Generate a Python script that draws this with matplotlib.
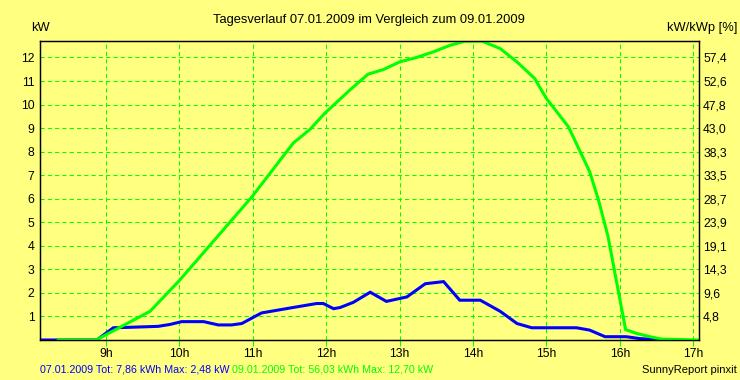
import matplotlib
matplotlib.use("Agg")
import matplotlib.pyplot as plt

# ---- data ----
hours_blue = [8.10, 8.873, 9.10, 9.33, 9.71, 9.87, 10.03, 10.33, 10.53, 10.71, 10.85,
              11.01, 11.12, 11.51, 11.87, 11.96, 12.10, 12.19, 12.37, 12.60, 12.82,
              13.10, 13.35, 13.60, 13.82, 14.10, 14.37, 14.60, 14.80, 15.41, 15.59,
              15.80, 16.09, 16.27, 16.59]
kw_blue = [0, 0, 0.52, 0.54, 0.58, 0.66, 0.78, 0.78, 0.64, 0.64, 0.70,
           0.97, 1.15, 1.36, 1.55, 1.55, 1.33, 1.38, 1.60, 2.03, 1.64,
           1.83, 2.39, 2.48, 1.69, 1.69, 1.22, 0.70, 0.52, 0.52, 0.42,
           0.14, 0.14, 0.06, 0]

hours_green = [8.35, 8.864, 9.60, 10.00, 10.99, 11.55, 11.78, 11.98, 12.32, 12.57,
               12.78, 13.00, 13.23, 13.46, 13.69, 13.89, 14.12, 14.37, 14.60, 14.84,
               15.00, 15.30, 15.59, 15.71, 15.84, 15.96, 16.08, 16.23, 16.41, 16.57,
               17.08]
kw_green = [0, 0, 1.22, 2.53, 6.09, 8.36, 8.95, 9.63, 10.61, 11.29,
            11.49, 11.81, 12.00, 12.24, 12.52, 12.69, 12.70, 12.38, 11.81, 11.11,
            10.26, 9.06, 7.15, 5.95, 4.40, 2.42, 0.44, 0.28, 0.14, 0.04,
            0]

x_ticks = [9, 10, 11, 12, 13, 14, 15, 16, 17]
x_labels = ["9h", "10h", "11h", "12h", "13h", "14h", "15h", "16h", "17h"]
y_ticks = [1, 2, 3, 4, 5, 6, 7, 8, 9, 10, 11, 12]
y_labels = ["1", "2", "3", "4", "5", "6", "7", "8", "9", "10", "11", "12"]
y_right_labels = ["4,8", "9,6", "14,3", "19,1", "23,9", "28,7", "33,5", "38,3",
                  "43,0", "47,8", "52,6", "57,4"]

title = "Tagesverlauf 07.01.2009 im Vergleich zum 09.01.2009"
legend_blue = "07.01.2009 Tot: 7,86 kWh Max: 2,48 kW"
legend_green = "09.01.2009 Tot: 56,03 kWh Max: 12,70 kW"

# ---- style ----
BG = "#FFFF80"
GREEN = "#00FF00"
BLUE = "#0000FF"
plt.rcParams["font.family"] = ["Liberation Sans", "DejaVu Sans"]

W, H = 740, 380
fig = plt.figure(figsize=(W / 100, H / 100), dpi=100, facecolor=BG)
L, R, T, B = 40, 699, 41, 340
ax = fig.add_axes([L / W, 1 - B / H, (R - L) / W, (B - T) / H], facecolor=BG)

ax.plot(hours_blue, kw_blue, color=BLUE, lw=2.2, solid_joinstyle="miter", zorder=3)
ax.plot(hours_green, kw_green, color=GREEN, lw=2.2, solid_joinstyle="miter", zorder=4)

ax.set_xlim(8.10, 17.08)
ax.set_ylim(0, 12.70)
ax.set_xticks(x_ticks)
ax.set_xticklabels(x_labels, fontsize=8.7)
ax.set_yticks(y_ticks)
ax.set_yticklabels(y_labels, fontsize=8.7)
ax.tick_params(axis="x", length=4, width=0.75, color=GREEN, pad=2)
ax.tick_params(axis="y", length=0, pad=4)
ax.grid(True, color=GREEN, lw=0.75, linestyle=(0, (4, 3)))
for s in ax.spines.values():
    s.set_color("black")
    s.set_linewidth(0.9)

ax2 = ax.twinx()
ax2.set_ylim(0, 12.70)
ax2.set_yticks(y_ticks)
ax2.set_yticklabels(y_right_labels, fontsize=8.7)
ax2.tick_params(axis="y", length=0, pad=3)
for s in ax2.spines.values():
    s.set_color("black")
    s.set_linewidth(0.9)

fig.text(369 / W, 1 - 20 / H, title, ha="center", va="center", fontsize=9.3)
fig.text(31 / W, 1 - 28 / H, "kW", ha="left", va="center", fontsize=9.3)
fig.text(737 / W, 1 - 28 / H, "kW/kWp [%]", ha="right", va="center", fontsize=9.3)

t1 = fig.text(40 / W, 1 - 369 / H, legend_blue, ha="left", va="center",
              fontsize=7.7, color=BLUE)
fig.canvas.draw()
bb = t1.get_window_extent()
fig.text((bb.x1 + 2) / W, 1 - 369 / H, legend_green, ha="left", va="center",
         fontsize=7.7, color=GREEN)
fig.text(737 / W, 1 - 370 / H, "SunnyReport pinxit", ha="right", va="center",
         fontsize=8, color="black")

fig.savefig("out.png", dpi=100, facecolor=BG)
